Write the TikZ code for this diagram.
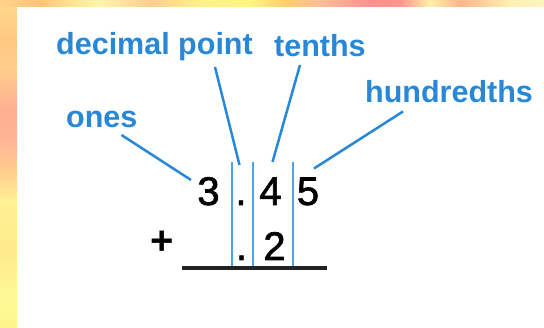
\documentclass[tikz,border=0pt]{standalone}
\usepackage{fontspec}
\setmainfont{Liberation Sans}
\newfontface\digitface{Liberation Sans}[FakeBold=1.6]
\usetikzlibrary{arrows.meta}

\definecolor{labelblue}{RGB}{40,136,216}
\definecolor{guideblue}{RGB}{78,162,230}
\definecolor{rulegray}{RGB}{35,35,35}

% warm blurred frame
\pgfdeclarehorizontalshading{topglow}{100bp}{%
  color(0bp)=(rgb,255:red,255;green,210;blue,140);
  color(25bp)=(rgb,255:red,255;green,210;blue,140);
  color(28.7bp)=(rgb,255:red,255;green,195;blue,120);
  color(32.4bp)=(rgb,255:red,255;green,235;blue,150);
  color(34.2bp)=(rgb,255:red,255;green,245;blue,170);
  color(38.8bp)=(rgb,255:red,255;green,205;blue,140);
  color(43.4bp)=(rgb,255:red,255;green,240;blue,140);
  color(48bp)=(rgb,255:red,255;green,245;blue,130);
  color(51.2bp)=(rgb,255:red,255;green,205;blue,110);
  color(54.4bp)=(rgb,255:red,255;green,190;blue,150);
  color(59bp)=(rgb,255:red,255;green,145;blue,145);
  color(61.8bp)=(rgb,255:red,255;green,150;blue,140);
  color(64.5bp)=(rgb,255:red,255;green,240;blue,170);
  color(67.3bp)=(rgb,255:red,255;green,180;blue,140);
  color(71.9bp)=(rgb,255:red,255;green,240;blue,180);
  color(75bp)=(rgb,255:red,255;green,245;blue,190);
  color(100bp)=(rgb,255:red,255;green,245;blue,190)}
\pgfdeclareverticalshading{sideglow}{100bp}{%
  color(0bp)=(rgb,255:red,255;green,245;blue,140);
  color(25bp)=(rgb,255:red,255;green,245;blue,140);
  color(29.4bp)=(rgb,255:red,255;green,250;blue,150);
  color(37.2bp)=(rgb,255:red,255;green,235;blue,140);
  color(44.9bp)=(rgb,255:red,255;green,240;blue,150);
  color(49.6bp)=(rgb,255:red,255;green,205;blue,140);
  color(54.3bp)=(rgb,255:red,255;green,180;blue,150);
  color(59bp)=(rgb,255:red,255;green,175;blue,145);
  color(65.2bp)=(rgb,255:red,255;green,205;blue,140);
  color(69.9bp)=(rgb,255:red,255;green,200;blue,130);
  color(75bp)=(rgb,255:red,255;green,215;blue,140);
  color(100bp)=(rgb,255:red,255;green,215;blue,140)}

\begin{document}
\begin{tikzpicture}[x=1pt, y=-1pt,
  label/.style={text=labelblue, inner sep=0pt, anchor=base west,
    font=\fontsize{30.5}{36}\selectfont\bfseries},
  digit/.style={inner sep=0pt, anchor=base, font=\fontsize{40}{46}\digitface},
  leader/.style={draw=labelblue, line width=2.5pt},
  guide/.style={draw=guideblue, line width=2pt}]
  \useasboundingbox (0,0) rectangle (544,328);
  % Frame and panel
  \shade[shading=sideglow] (0,7) rectangle (17,328);
  \shade[shading=topglow] (0,0) rectangle (544,7);
  \fill[white] (17,7) rectangle (544,328);
  % Labels
  \node[label] (point) at (56,55) {decimal point};
  \node[label] (tenths) at (274,56.5) {tenths};
  \node[label] (hundredths) at (365,103) {hundredths};
  \node[label] (ones) at (66,128) {ones};
  % Top number
  \node[digit] (three) at (208.5,205) {3};
  \node[digit] (dotA) at (241,205) {.};
  \node[digit] (four) at (270.5,205) {4};
  \node[digit] (five) at (308,205) {5};
  % Bottom number
  \node[digit, font=\fontsize{40}{46}\selectfont\bfseries] (plus) at (162.5,255) {+};
  \node[digit] (dotB) at (241.5,260) {.};
  \node[digit] (two) at (274.5,260) {2};
  % Column guides
  \foreach \gx in {231.5,252.5,292.5}
    \draw[guide] (\gx,162) -- (\gx,267);
  % Sum rule
  \coordinate (ruleL) at (182,268);
  \coordinate (ruleR) at (327,268);
  \draw[rulegray, line width=3.5pt] (ruleL) -- (ruleR);
  % Leader lines
  \coordinate (onesA) at (121.5,135);  \coordinate (onesB) at (191,180);
  \coordinate (pointA) at (215,67);    \coordinate (pointB) at (239.5,165);
  \coordinate (tenthsA) at (300,65);   \coordinate (tenthsB) at (272.5,162);
  \coordinate (hundA) at (403,111.5);  \coordinate (hundB) at (314,168.5);
  \draw[leader] (onesA) -- (onesB);
  \draw[leader] (pointA) -- (pointB);
  \draw[leader] (tenthsA) -- (tenthsB);
  \draw[leader] (hundA) -- (hundB);
\end{tikzpicture}
\end{document}
